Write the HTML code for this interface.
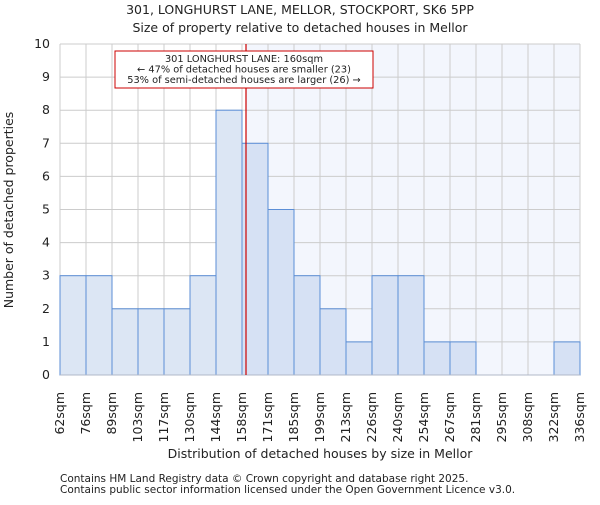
<!DOCTYPE html>
<html><head><meta charset="utf-8"><style>
body{margin:0;background:#fff}
svg text{font-family:"DejaVu Sans","Liberation Sans",sans-serif;fill:#222}
</style></head><body>
<svg id="chart" width="600" height="500" xmlns="http://www.w3.org/2000/svg">
<text x="300" y="14" text-anchor="middle" font-size="12.5">301, LONGHURST LANE, MELLOR, STOCKPORT, SK6 5PP</text>
<text x="300" y="32" text-anchor="middle" font-size="12.5">Size of property relative to detached houses in Mellor</text>
<g id="plot"></g>
<text x="320" y="458" text-anchor="middle" font-size="12.5">Distribution of detached houses by size in Mellor</text>
<text transform="translate(13,210) rotate(-90)" text-anchor="middle" font-size="12.5">Number of detached properties</text>
<text x="60" y="482" font-size="10.5">Contains HM Land Registry data © Crown copyright and database right 2025.</text>
<text x="60" y="493" font-size="10.5">Contains public sector information licensed under the Open Government Licence v3.0.</text>
</svg>
<script>
const edges=[62,76,89,103,117,130,144,158,171,185,199,213,226,240,254,267,281,295,308,322,336];
const counts=[3,3,2,2,2,3,8,7,5,3,2,1,3,3,1,1,0,0,0,1];
const yTicks=[0,1,2,3,4,5,6,7,8,9,10];
const subjectSize=160;
const X0=60,X1=580,Y0=375,Y1=44,YMAX=10;
const ns="http://www.w3.org/2000/svg";
const g=document.getElementById('plot');
const bw=(X1-X0)/counts.length;
function xIdx(i){return X0+i*bw;}
function xVal(v){for(let i=0;i<edges.length-1;i++){if(v>=edges[i]&&v<=edges[i+1])return xIdx(i)+(v-edges[i])/(edges[i+1]-edges[i])*bw;}return X0;}
function y(v){return Y0-(v/YMAX)*(Y0-Y1);}
function mk(t,a){const e=document.createElementNS(ns,t);for(const k in a)e.setAttribute(k,a[k]);g.appendChild(e);return e;}
const sx=xVal(subjectSize);
let e=mk('rect',{x:sx,y:Y1,width:X1-sx,height:Y0-Y1,fill:'#f3f6fd'});


yTicks.forEach(t=>{
 let l=mk('line',{x1:X0,x2:X1,y1:y(t),y2:y(t),stroke:'#cccccc'});
 
 
 let tx=mk('text',{x:X0-10,y:y(t)+4,'text-anchor':'end','font-size':'12.5'});tx.textContent=t;
 
 
});
edges.forEach((ed,i)=>{
 let l=mk('line',{x1:xIdx(i),x2:xIdx(i),y1:Y1,y2:Y0,stroke:'#cccccc'});
 
 
 let tx=mk('text',{transform:`translate(${xIdx(i)+4},392) rotate(-90)`,'text-anchor':'end','font-size':'12.5'});tx.textContent=ed+'sqm';
 
 
});
counts.forEach((c,i)=>{
 if(c<=0)return;
 let r=mk('rect',{x:xIdx(i),y:y(c),width:bw,height:Y0-y(c),fill:xIdx(i)+bw/2<sx?'#dce6f4':'#d6e1f4',stroke:'#5b8ed6','stroke-width':1});
 
 
});
let ax=mk('line',{x1:X0,x2:X1,y1:Y0,y2:Y0,stroke:'#b0b8c8'});


let rl=mk('line',{x1:sx,x2:sx,y1:Y1,y2:Y0,stroke:'#cc0000','stroke-width':1.2});


let box=mk('rect',{x:115,y:51,width:258,height:37,fill:'#fff',stroke:'#cc0000'});


["301 LONGHURST LANE: 160sqm","\u2190 47% of detached houses are smaller (23)","53% of semi-detached houses are larger (26) \u2192"].forEach((s,i)=>{
 let t=mk('text',{x:244,y:62+i*10.5,'text-anchor':'middle','font-size':'9.8'});t.textContent=s;
 
 
});
</script>
</body></html>
